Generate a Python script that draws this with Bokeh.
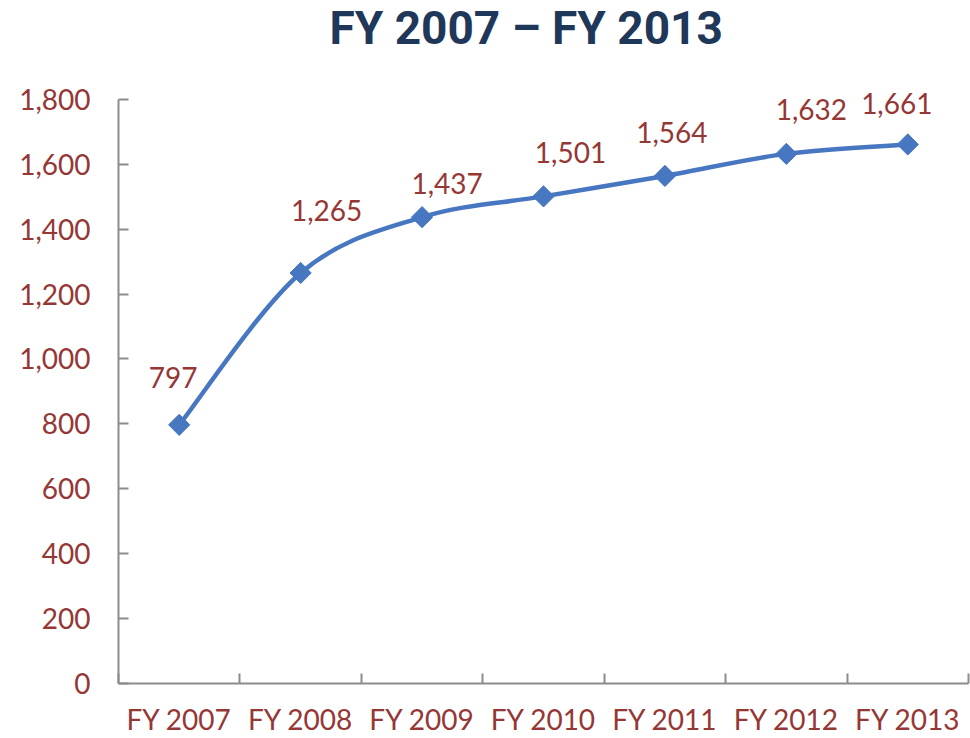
import math
from bokeh.plotting import figure
from bokeh.models import Range1d, FixedTicker, NumeralTickFormatter, Label
from bokeh.embed import file_html
from bokeh.resources import INLINE

title_text = "FY 2007 \u2013 FY 2013"
categories = ["FY 2007", "FY 2008", "FY 2009", "FY 2010", "FY 2011", "FY 2012", "FY 2013"]
values = [797, 1265, 1437, 1501, 1564, 1632, 1661]
labels = ["797", "1,265", "1,437", "1,501", "1,564", "1,632", "1,661"]
y_ticks = [0, 200, 400, 600, 800, 1000, 1200, 1400, 1600, 1800]
# label pixel offsets (style)
label_dx = [-6, 26, 25, 27, 7, 25, -11]
label_dy = [47, 62, 34, 44, 43, 44, 41]

LABEL_COLOR = "#953735"
LINE_COLOR = "#4677C0"
AXIS_COLOR = "#8C8C8C"
FONT = "Lato"

# layout (pixels)
FRAME_H = 684          # frame spans from top of canvas to the x axis
AXIS_H = 585           # pixel height of the 0..1800 axis
n = len(categories)
xs = [i + 0.5 for i in range(n)]
y_end = y_ticks[-1] * FRAME_H / AXIS_H

p = figure(width=970, height=738, output_backend="svg", toolbar_location=None,
           x_range=Range1d(0, n), y_range=Range1d(0, y_end),
           min_border_left=118, min_border_right=2, min_border_top=0, min_border_bottom=40)
p.outline_line_color = None
p.xgrid.grid_line_color = None
p.ygrid.grid_line_color = None
p.background_fill_color = "white"

# title as a text annotation at the top of the canvas
p.add_layout(Label(x=211, y=FRAME_H - 28, x_units="screen", y_units="screen",
                   text=title_text, text_font="Roboto", text_font_size="46px",
                   text_font_style="bold", text_color="#1F3759",
                   text_align="left", text_baseline="alphabetic"))

# x axis
p.xaxis.ticker = FixedTicker(ticks=xs, minor_ticks=list(range(n + 1)))
p.xaxis.major_label_overrides = {x: c for x, c in zip(xs, categories)}
p.xaxis.major_tick_line_color = None
p.xaxis.minor_tick_in = 10
p.xaxis.minor_tick_out = 0
p.xaxis.minor_tick_line_color = AXIS_COLOR
p.xaxis.minor_tick_line_width = 2
p.xaxis.axis_line_color = AXIS_COLOR
p.xaxis.axis_line_width = 2
p.xaxis.major_label_standoff = 12
p.xaxis.major_label_text_font = FONT
p.xaxis.major_label_text_font_size = "28px"
p.xaxis.major_label_text_color = LABEL_COLOR

# y axis
p.yaxis.ticker = FixedTicker(ticks=y_ticks)
p.yaxis.bounds = (y_ticks[0], y_ticks[-1])
p.yaxis.formatter = NumeralTickFormatter(format="0,0")
p.yaxis.major_tick_in = 10
p.yaxis.major_tick_out = 0
p.yaxis.minor_tick_line_color = None
p.yaxis.major_tick_line_color = AXIS_COLOR
p.yaxis.major_tick_line_width = 2
p.yaxis.axis_line_color = AXIS_COLOR
p.yaxis.axis_line_width = 2
p.yaxis.major_label_standoff = 28
p.yaxis.major_label_text_font = FONT
p.yaxis.major_label_text_font_size = "28px"
p.yaxis.major_label_text_color = LABEL_COLOR

# smoothed line (Catmull-Rom -> cubic Bezier)
pts = list(zip(xs, values))
x0s, y0s, x1s, y1s, cx0, cy0, cx1, cy1 = [], [], [], [], [], [], [], []
for i in range(n - 1):
    p0 = pts[i - 1] if i > 0 else pts[i]
    p1 = pts[i]
    p2 = pts[i + 1]
    p3 = pts[i + 2] if i + 2 < n else pts[i + 1]
    x0s.append(p1[0]); y0s.append(p1[1])
    x1s.append(p2[0]); y1s.append(p2[1])
    cx0.append(p1[0] + (p2[0] - p0[0]) / 6); cy0.append(p1[1] + (p2[1] - p0[1]) / 6)
    cx1.append(p2[0] - (p3[0] - p1[0]) / 6); cy1.append(p2[1] - (p3[1] - p1[1]) / 6)
p.bezier(x0=x0s, y0=y0s, x1=x1s, y1=y1s, cx0=cx0, cy0=cy0, cx1=cx1, cy1=cy1,
         line_color=LINE_COLOR, line_width=4.5)

p.scatter(xs, values, marker="square", size=15, angle=math.pi / 4,
          fill_color=LINE_COLOR, line_color=LINE_COLOR)

for x, y, t, dx, dy in zip(xs, values, labels, label_dx, label_dy):
    p.add_layout(Label(x=x, y=y, text=t, x_offset=dx, y_offset=dy,
                       text_font=FONT, text_font_size="28px", text_color=LABEL_COLOR,
                       text_align="center", text_baseline="middle"))

open("out.html", "w").write(file_html(p, INLINE))
